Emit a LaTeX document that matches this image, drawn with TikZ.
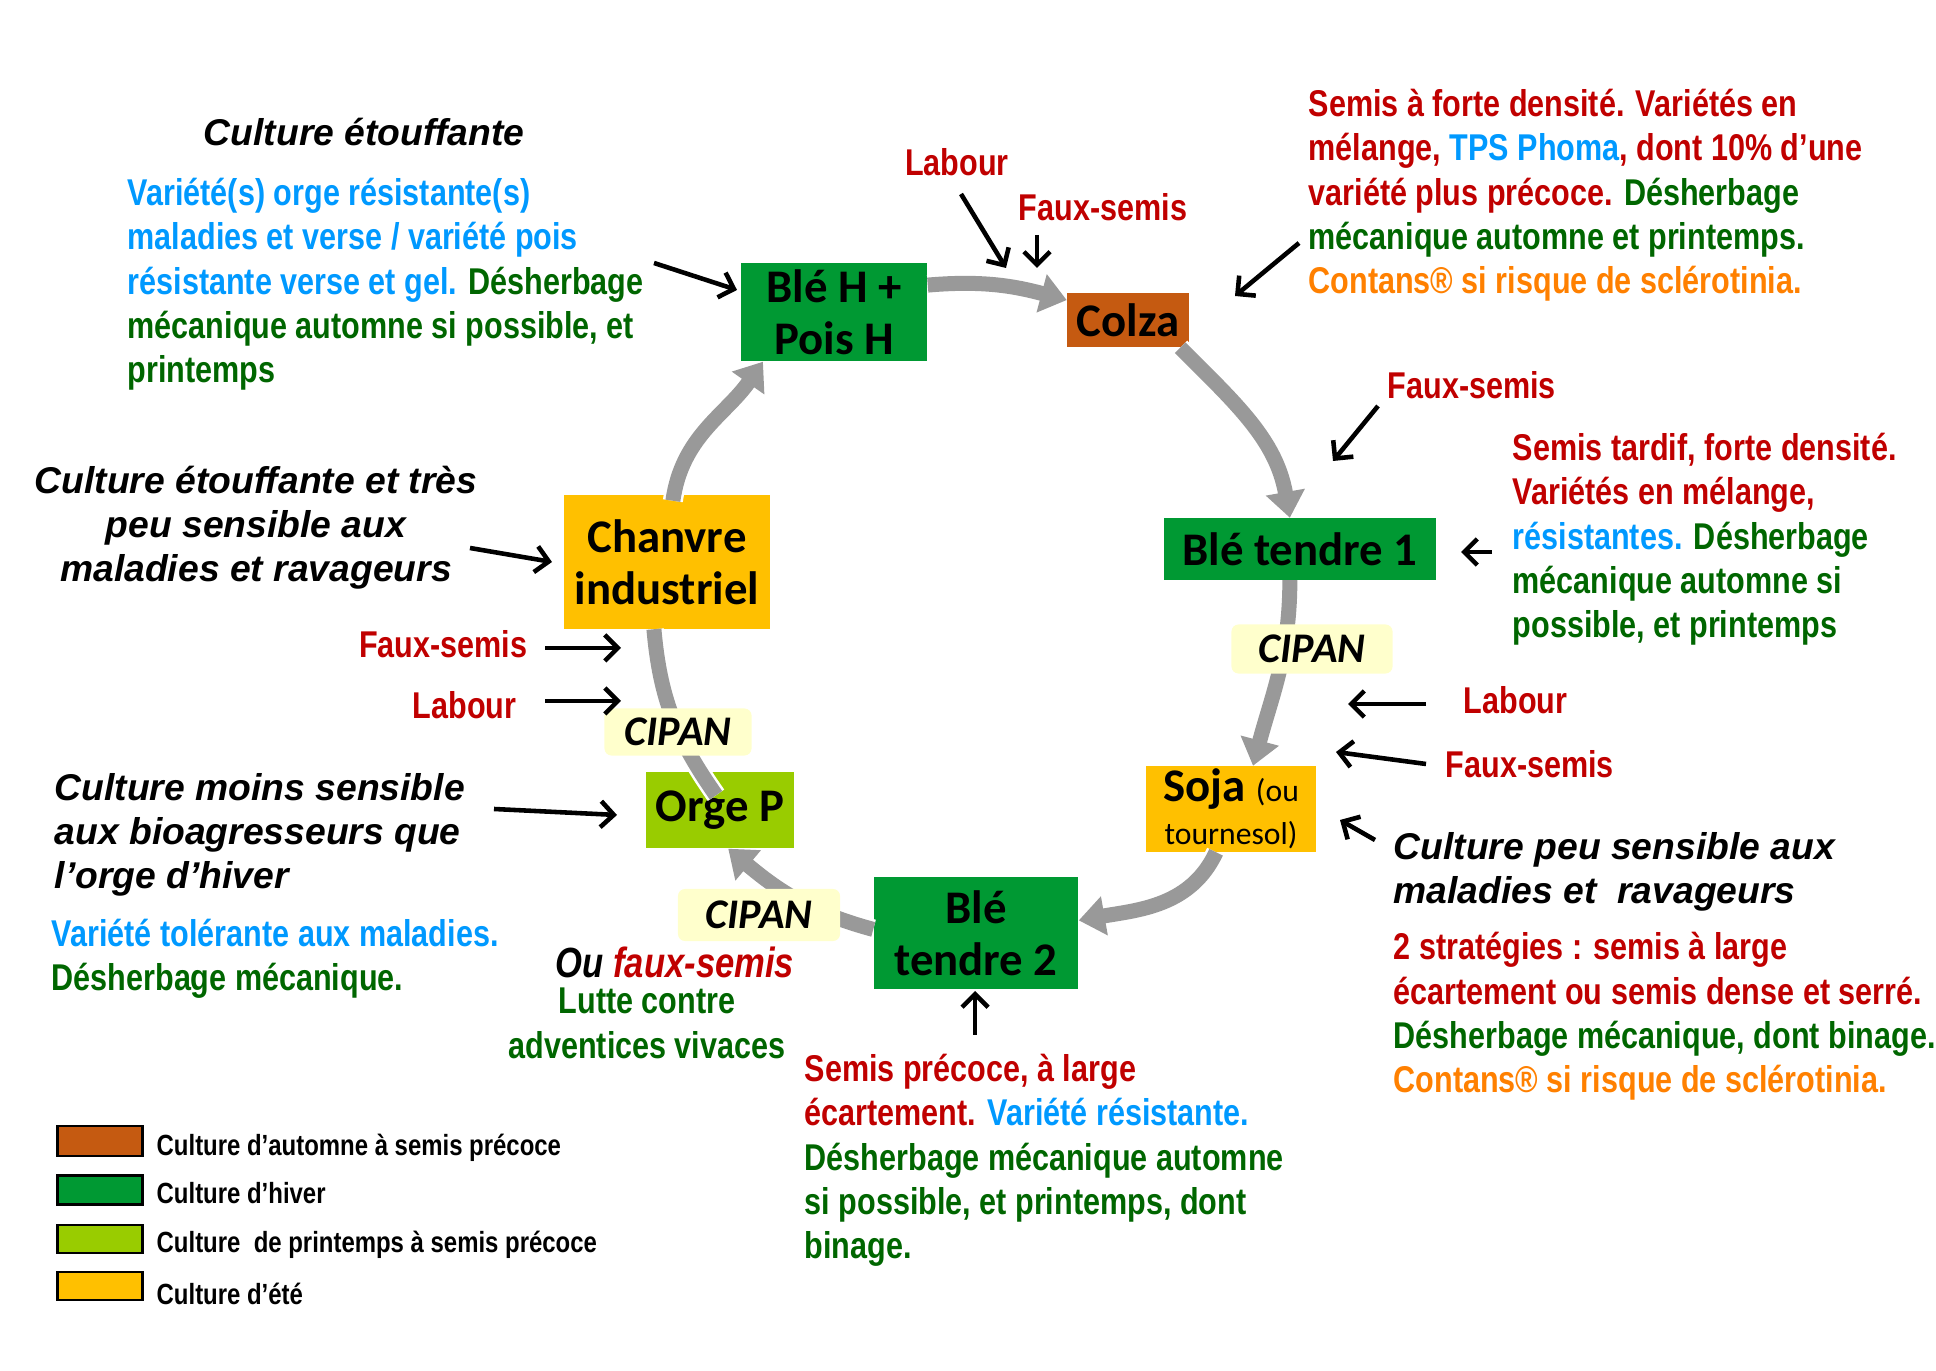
\documentclass[tikz,border=0pt]{standalone}
\usepackage{fontspec}
\setmainfont{Liberation Sans}
\newfontfamily\narrowfont[FakeStretch=0.82]{Liberation Sans}
\newfontfamily\boxfont{Carlito}
\usetikzlibrary{arrows.meta}

\definecolor{winter}{RGB}{0,153,51}
\definecolor{autumn}{RGB}{197,90,17}
\definecolor{spring}{RGB}{153,204,0}
\definecolor{summer}{RGB}{255,192,0}
\definecolor{cipanbg}{RGB}{255,255,204}
\definecolor{bandgrey}{RGB}{153,153,153}
\definecolor{tred}{RGB}{192,0,0}
\definecolor{tblue}{RGB}{0,153,255}
\definecolor{tgreen}{RGB}{0,102,0}
\definecolor{torange}{RGB}{255,128,0}

\newcommand{\blu}[1]{\textcolor{tblue}{#1}}
\newcommand{\grn}[1]{\textcolor{tgreen}{#1}}
\newcommand{\org}[1]{\textcolor{torange}{#1}}

\tikzset{
  crop/.style={inner sep=0pt, align=center, text=black, font=\boxfont\bfseries\fontsize{13.3}{14.8}\selectfont},
  cipan/.style={fill=cipanbg, rounded corners=0.07cm, inner sep=0pt, font=\boxfont\bfseries\itshape\fontsize{12}{14}\selectfont},
  note/.style={inner sep=0pt, align=left, anchor=base west, font=\narrowfont\bfseries\fontsize{10.6}{12.65}\selectfont},
  remark/.style={inner sep=0pt, align=left, anchor=base west, font=\bfseries\itshape\fontsize{10.6}{12.65}\selectfont},
  pointer/.style={-{Straight Barb[length=0.13cm,width=0.26cm]}, line width=1.3pt},
  band/.style={draw=bandgrey, line width=0.15cm, preaction={draw=white, line width=0.2cm}},
  rotation/.style={draw=bandgrey, line width=0.15cm, -{Triangle[width=0.38cm,length=0.26cm]},
    preaction={draw=white, line width=0.2cm, -{Triangle[width=0.44cm,length=0.30cm]}}},
  legendbox/.style={draw=black, line width=0.6pt, minimum width=0.85cm, inner sep=0pt},
  legendtext/.style={inner sep=0pt, anchor=base west, font=\narrowfont\bfseries\fontsize{8.3}{10}\selectfont},
}

\begin{document}
\begin{tikzpicture}[x=0.01cm, y=0.01cm]
\useasboundingbox (0,0) rectangle (1936,-1371);

% crops of the rotation
\node[crop, fill=winter, minimum width=1.86cm, minimum height=0.98cm] (bleH) at (834,-312) {Blé H +\\Pois H};
\node[crop, fill=autumn, minimum width=1.21cm, minimum height=0.54cm] (colza) at (1128,-320) {Colza};
\node[crop, fill=winter, minimum width=2.72cm, minimum height=0.61cm] (ble1) at (1300,-549) {Blé tendre 1};
\node[crop, fill=summer, minimum width=1.69cm, minimum height=0.85cm, font=\boxfont\bfseries\fontsize{13.3}{12.2}\selectfont] (soja) at (1231,-809)
  {Soja {\mdseries\fontsize{9}{12.2}\selectfont(ou}\\{\mdseries\fontsize{9}{12.2}\selectfont tournesol)}};
\node[crop, fill=winter, minimum width=2.04cm, minimum height=1.11cm] (ble2) at (976,-933) {Blé\\tendre 2};
\node[crop, fill=spring, minimum width=1.47cm, minimum height=0.76cm] (orge) at (720,-810) {Orge P};
\node[crop, fill=summer, minimum width=2.06cm, minimum height=1.33cm] (chanvre) at (667,-562) {Chanvre\\industriel};

% grey rotation arrows
\draw[rotation] (bleH.16) to[out=5, in=165] (colza.162);
\draw[rotation] (colza.-28) to[out=-45, in=100] (ble1.108);
\draw[rotation] (ble1.-108) to[out=-90, in=75] (soja.63);
\draw[rotation] (soja.-109) to[out=-115, in=10] (ble2.7);
\draw[rotation] (ble2.178) to[out=165, in=-40] (orge.-78);
\draw[band] ([shift={(-4,-24)}]orge.north) to[out=125, in=-85] (chanvre.-101);
\draw[rotation] ([shift={(0,-6)}]chanvre.85) to[out=82, in=-125] (bleH.-145);

% intercrops
\node[cipan, minimum width=1.61cm, minimum height=0.49cm] (cipanR) at (1312,-649) {CIPAN};
\node[cipan, minimum width=1.62cm, minimum height=0.52cm] (cipanB) at (759,-915) {CIPAN};
\node[cipan, minimum width=1.47cm, minimum height=0.47cm] (cipanL) at (678,-732) {CIPAN};

% remarks and notes (base = last line)
\begin{scope}[yshift=-0.03cm]
\node[remark, anchor=base] (bleHRemark) at (364,-143) {Culture étouffante};
\node[note, text=tgreen] (bleHNote) at (127,-380) {\blu{Variété(s) orge résistante(s)}\\\blu{maladies et verse / variété pois}\\\blu{résistante verse et gel.} Désherbage\\mécanique automne si possible, et\\printemps};
\node[note, text=tred, anchor=base] (labTop) at (957,-173) {Labour};
\node[note, text=tred, anchor=base] (fsTop) at (1103,-218) {Faux-semis};
\node[note, text=tred] (colzaNote) at (1308,-291) {Semis à forte densité. Variétés en\\mélange, \blu{TPS Phoma}, dont 10\% d’une\\variété plus précoce. \grn{Désherbage}\\\grn{mécanique automne et printemps.}\\\org{Contans® si risque de sclérotinia.}};
\node[note, text=tred] (fsRight) at (1387,-396) {Faux-semis};
\node[note, text=tred] (ble1Note) at (1512,-635) {Semis tardif, forte densité.\\Variétés en mélange,\\\blu{résistantes.} \grn{Désherbage}\\\grn{mécanique automne si}\\\grn{possible, et printemps}};
\node[note, text=tred] (labRight) at (1463,-711) {Labour};
\node[note, text=tred] (fsRight2) at (1445,-775) {Faux-semis};
\node[remark] (sojaRemark) at (1393,-901) {Culture peu sensible aux\\maladies et \ ravageurs};
\node[note, text=tred] (sojaNote) at (1393,-1090) {2 stratégies : semis à large\\écartement ou semis dense et serré.\\\grn{Désherbage mécanique, dont binage.}\\\org{Contans® si risque de sclérotinia.}};
\node[note, text=tred] (ble2Note) at (804,-1256) {Semis précoce, à large\\écartement. \blu{Variété résistante.}\\\grn{Désherbage mécanique automne}\\\grn{si possible, et printemps, dont}\\\grn{binage.}};
\node[note, anchor=base, font=\narrowfont\bfseries\itshape\fontsize{12}{14}\selectfont] (ouFs) at (675,-975) {Ou \textcolor{tred}{faux-semis}};
\node[note, anchor=base, align=center, text=tgreen, font=\narrowfont\bfseries\fontsize{10.6}{13}\selectfont] (lutte) at (647,-1056) {Lutte contre\\adventices vivaces};
\node[remark] (orgeRemark) at (54,-886) {Culture moins sensible\\aux bioagresseurs que\\l’orge d’hiver};
\node[note, text=tgreen] (orgeNote) at (51,-988) {\blu{Variété tolérante aux maladies.}\\Désherbage mécanique.};
\node[note, text=tred, anchor=base east] (fsLeft) at (528,-655) {Faux-semis};
\node[note, text=tred, anchor=base east] (labLeft) at (517,-716) {Labour};
\node[remark, anchor=base, align=center] (chanvreRemark) at (256,-579) {Culture étouffante et très\\peu sensible aux\\maladies et ravageurs};
\end{scope}

% pointers
\coordinate (bleHTail) at (654,-263);   \coordinate (bleHHead) at (737,-290);
\coordinate (labTopTail) at (961,-194); \coordinate (labTopHead) at (1006,-268);
\coordinate (fsTopTail) at (1037,-235); \coordinate (fsTopHead) at (1037,-268);
\coordinate (colzaTail) at (1299,-243); \coordinate (colzaHead) at (1235,-296);
\coordinate (fsRTail) at (1378,-406);   \coordinate (fsRHead) at (1333,-461);
\coordinate (ble1Tail) at (1492,-552);  \coordinate (ble1Head) at (1461,-552);
\coordinate (labRTail) at (1426,-704);  \coordinate (labRHead) at (1348,-704);
\coordinate (fsR2Tail) at (1426,-764);  \coordinate (fsR2Head) at (1336,-752);
\coordinate (sojaTail) at (1375,-840);  \coordinate (sojaHead) at (1340,-820);
\coordinate (ble2Tail) at (975,-1035);  \coordinate (ble2Head) at (975,-991);
\coordinate (orgeTail) at (494,-809);   \coordinate (orgeHead) at (617,-815);
\coordinate (fsLTail) at (545,-648);    \coordinate (fsLHead) at (621,-648);
\coordinate (labLTail) at (545,-701);   \coordinate (labLHead) at (621,-701);
\coordinate (chanvreTail) at (470,-548); \coordinate (chanvreHead) at (552,-562);

\draw[pointer] (bleHTail) -- (bleHHead);
\draw[pointer] (labTopTail) -- (labTopHead);
\draw[pointer] (fsTopTail) -- (fsTopHead);
\draw[pointer] (colzaTail) -- (colzaHead);
\draw[pointer] (fsRTail) -- (fsRHead);
\draw[pointer] (ble1Tail) -- (ble1Head);
\draw[pointer] (labRTail) -- (labRHead);
\draw[pointer] (fsR2Tail) -- (fsR2Head);
\draw[pointer] (sojaTail) -- (sojaHead);
\draw[pointer] (ble2Tail) -- (ble2Head);
\draw[pointer] (orgeTail) -- (orgeHead);
\draw[pointer] (fsLTail) -- (fsLHead);
\draw[pointer] (labLTail) -- (labLHead);
\draw[pointer] (chanvreTail) -- (chanvreHead);

% legend
\node[legendbox, fill=autumn, minimum height=0.30cm] (keyAutumn) at (100,-1141) {};
\node[legendbox, fill=winter, minimum height=0.29cm] (keyWinter) at (100,-1190) {};
\node[legendbox, fill=spring, minimum height=0.28cm] (keySpring) at (100,-1239) {};
\node[legendbox, fill=summer, minimum height=0.28cm] (keySummer) at (100,-1286) {};
\node[legendtext] (txtAutumn) at (156,-1156) {Culture d’automne à semis précoce};
\node[legendtext] (txtWinter) at (156,-1204) {Culture d’hiver};
\node[legendtext] (txtSpring) at (156,-1253) {Culture \ de printemps à semis précoce};
\node[legendtext] (txtSummer) at (156,-1305) {Culture d’été};
\end{tikzpicture}
\end{document}
